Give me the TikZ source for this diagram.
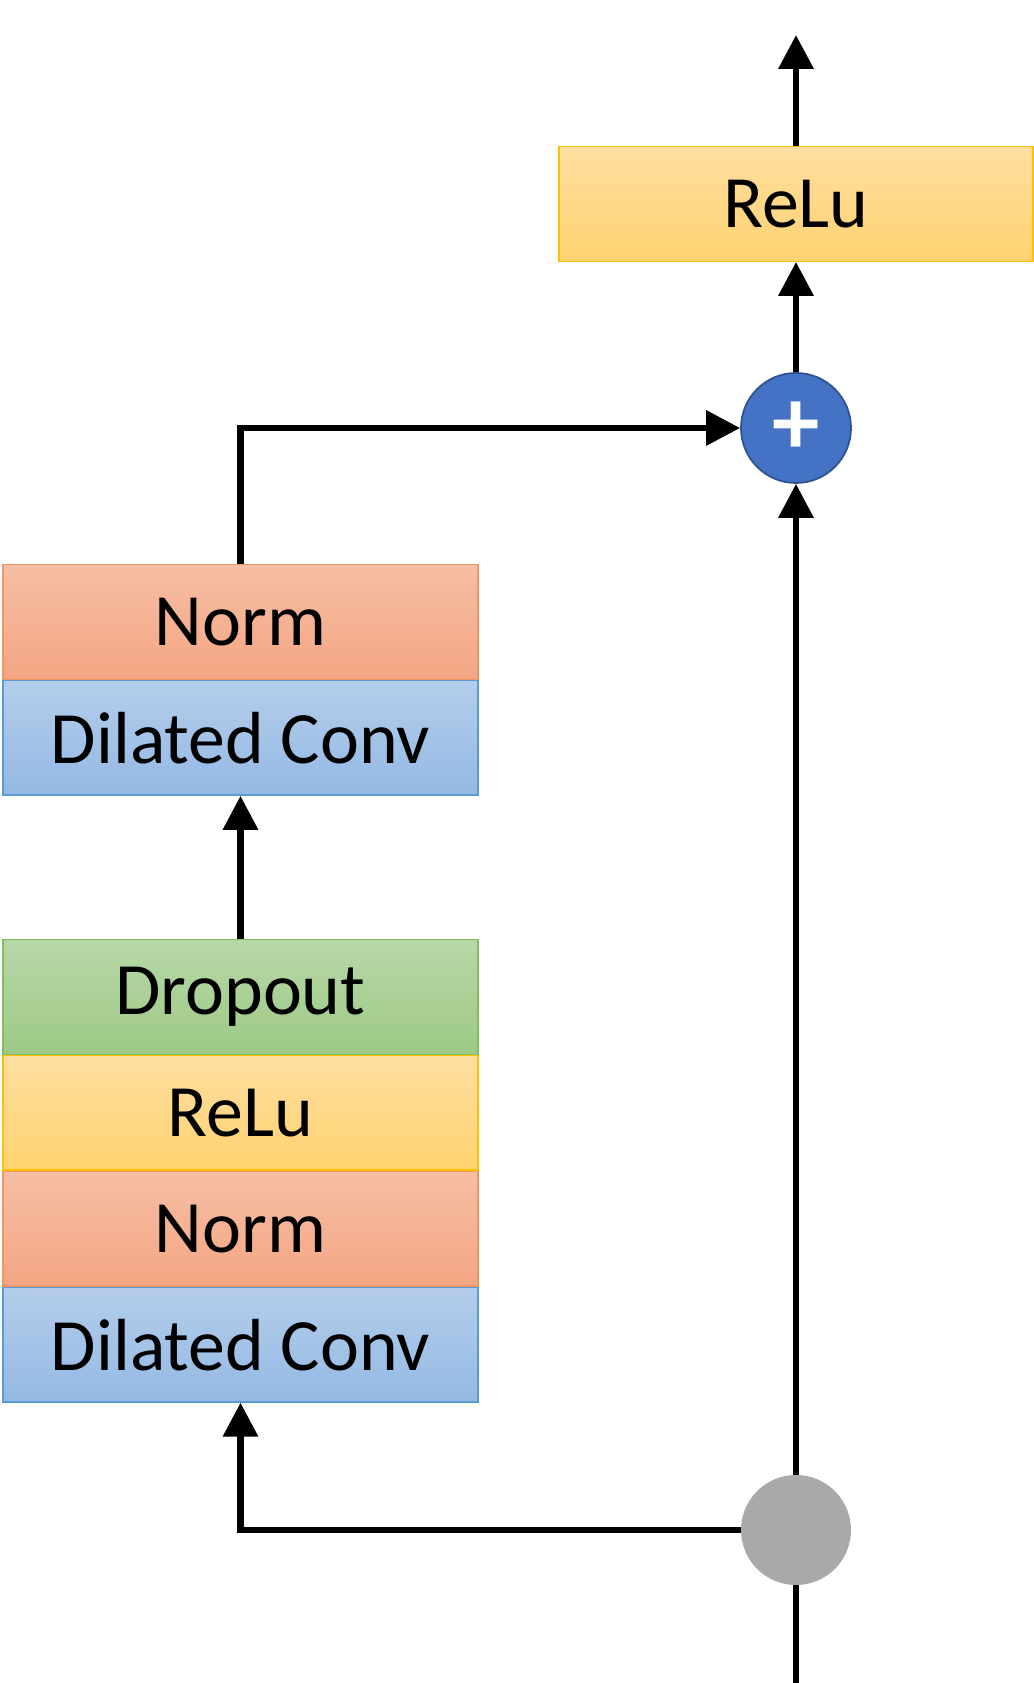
\documentclass[tikz,border=0pt]{standalone}
\usepackage{fontspec}
\setmainfont{Carlito}
\definecolor{normtop}{RGB}{246,190,164}
\definecolor{normbot}{RGB}{244,166,131}
\definecolor{normline}{RGB}{240,150,100}
\definecolor{convtop}{RGB}{180,205,235}
\definecolor{convbot}{RGB}{148,185,228}
\definecolor{convline}{RGB}{91,155,213}
\definecolor{droptop}{RGB}{183,215,168}
\definecolor{dropbot}{RGB}{157,202,133}
\definecolor{dropline}{RGB}{130,190,95}
\definecolor{relutop}{RGB}{255,222,160}
\definecolor{relubot}{RGB}{255,211,112}
\definecolor{reluline}{RGB}{255,192,0}
\definecolor{addblue}{RGB}{68,114,196}
\definecolor{addline}{RGB}{47,82,143}
\definecolor{splitgray}{RGB}{171,168,168}
\usetikzlibrary{arrows.meta,positioning}

\tikzset{
  layer/.style={rectangle, minimum width=9.5cm, minimum height=2.29cm, line width=0.8pt,
                inner sep=0pt, font=\fontsize{42}{50}\selectfont},
  normlayer/.style={layer, draw=normline, top color=normtop, bottom color=normbot},
  convlayer/.style={layer, draw=convline, top color=convtop, bottom color=convbot},
  droplayer/.style={layer, draw=dropline, top color=droptop, bottom color=dropbot},
  relulayer/.style={layer, draw=reluline, top color=relutop, bottom color=relubot},
  flow/.style={line width=3.7pt, -{Triangle[length=0.68cm, width=0.68cm]}},
  plain/.style={line width=3.7pt}
}

\begin{document}
\begin{tikzpicture}
    \useasboundingbox (0,0) rectangle (20.68,33.66);

    % output ReLu and adder on the right
    \node[relulayer, minimum width=9.48cm] (outrelu) at (15.92,29.58) {ReLu};
    \node[circle, minimum size=2.2cm, fill=addblue, draw=addline, line width=1pt,
          text=white, font=\fontsize{54}{56}\selectfont\bfseries] (add) at (15.92,25.10) {+};
    \node[circle, minimum size=2.2cm, fill=splitgray] (split) at (15.92,3.06) {};
    \coordinate (out) at (15.92,32.96);
    \coordinate (in) at (15.92,0);

    % upper stack
    \node[normlayer] (norm1) at (4.81,21.22) {Norm};
    \node[convlayer, below=0pt of norm1] (conv1) {Dilated Conv};

    % lower stack
    \node[droplayer] (drop) at (4.81,13.72) {Dropout};
    \node[relulayer, below=0pt of drop] (relu) {ReLu};
    \node[normlayer, below=0pt of relu] (norm2) {Norm};
    \node[convlayer, below=0pt of norm2] (conv2) {Dilated Conv};

    % Arrows
    \draw[plain] (in) -- (split.south);
    \draw[flow] (split.west) -- (split.west -| conv2.south) -- (conv2.south);
    \draw[flow] (drop.north) -- (conv1.south);
    \draw[flow] (norm1.north) -- (norm1.north |- add.west) -- (add.west);
    \draw[flow] (split.north) -- (add.south);
    \draw[flow] (add.north) -- (outrelu.south);
    \draw[flow] (outrelu.north) -- (out);
\end{tikzpicture}
\end{document}
